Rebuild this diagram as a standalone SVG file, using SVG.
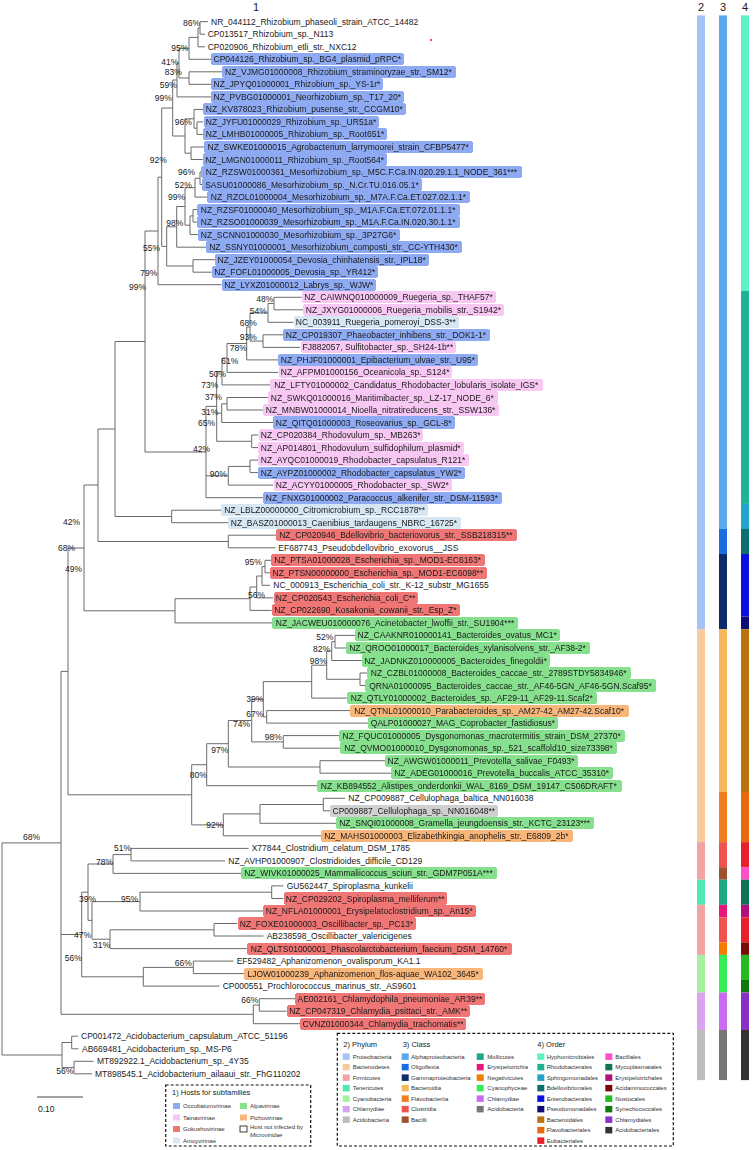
<svg xmlns="http://www.w3.org/2000/svg" width="756" height="1150" viewBox="0 0 756 1150">
<style>
text{font-family:"Liberation Sans",Arial,sans-serif;fill:#1a1a1a}
.t{font-size:8.5px}
.bs{font-size:8.5px;text-anchor:end}
.hd{font-size:11px}
.ln{stroke:#6b6b6b;stroke-width:1;fill:none}
.hb{filter:url(#fb)}.hp{filter:url(#fp)}.hl{filter:url(#fl)}.hr{filter:url(#fr)}.hg{filter:url(#fg)}.ho{filter:url(#fo)}.hy{filter:url(#fy)}
.lg{font-size:6px;fill:#333}
.lh{font-size:7.5px;fill:#222}
.box{fill:none;stroke:#111;stroke-width:1.2;stroke-dasharray:3,2}
</style>
<defs>
<filter id="fb" x="-0.016" y="-0.16" width="1.032" height="1.32" color-interpolation-filters="sRGB"><feFlood flood-color="#8eaaf2"/><feGaussianBlur stdDeviation="2.2"/><feComponentTransfer><feFuncA type="discrete" tableValues="0 0 0 1 1"/></feComponentTransfer><feComposite in="SourceGraphic"/></filter>
<filter id="fp" x="-0.016" y="-0.16" width="1.032" height="1.32" color-interpolation-filters="sRGB"><feFlood flood-color="#f7c8f3"/><feGaussianBlur stdDeviation="2.2"/><feComponentTransfer><feFuncA type="discrete" tableValues="0 0 0 1 1"/></feComponentTransfer><feComposite in="SourceGraphic"/></filter>
<filter id="fl" x="-0.016" y="-0.16" width="1.032" height="1.32" color-interpolation-filters="sRGB"><feFlood flood-color="#d6e7f3"/><feGaussianBlur stdDeviation="2.2"/><feComponentTransfer><feFuncA type="discrete" tableValues="0 0 0 1 1"/></feComponentTransfer><feComposite in="SourceGraphic"/></filter>
<filter id="fr" x="-0.016" y="-0.16" width="1.032" height="1.32" color-interpolation-filters="sRGB"><feFlood flood-color="#f07676"/><feGaussianBlur stdDeviation="2.2"/><feComponentTransfer><feFuncA type="discrete" tableValues="0 0 0 1 1"/></feComponentTransfer><feComposite in="SourceGraphic"/></filter>
<filter id="fg" x="-0.016" y="-0.16" width="1.032" height="1.32" color-interpolation-filters="sRGB"><feFlood flood-color="#86e08e"/><feGaussianBlur stdDeviation="2.2"/><feComponentTransfer><feFuncA type="discrete" tableValues="0 0 0 1 1"/></feComponentTransfer><feComposite in="SourceGraphic"/></filter>
<filter id="fo" x="-0.016" y="-0.16" width="1.032" height="1.32" color-interpolation-filters="sRGB"><feFlood flood-color="#f8b67a"/><feGaussianBlur stdDeviation="2.2"/><feComponentTransfer><feFuncA type="discrete" tableValues="0 0 0 1 1"/></feComponentTransfer><feComposite in="SourceGraphic"/></filter>
<filter id="fy" x="-0.016" y="-0.16" width="1.032" height="1.32" color-interpolation-filters="sRGB"><feFlood flood-color="#d0d0d0"/><feGaussianBlur stdDeviation="2.2"/><feComponentTransfer><feFuncA type="discrete" tableValues="0 0 0 1 1"/></feComponentTransfer><feComposite in="SourceGraphic"/></filter>
</defs>
<rect width="756" height="1150" fill="#fff"/>
<g id="column-headers">
<text class="hd" x="253" y="11">1</text>
<text class="hd" x="698" y="11">2</text>
<text class="hd" x="720" y="11">3</text>
<text class="hd" x="742" y="11">4</text>
</g>
<circle cx="431" cy="40" r="1" fill="#e02020"/>
<g id="connectors" class="ln">
<path d="M200,21.7V34.2M200,21.7H208M200,34.2H205 M198,28V46.8M198,28H200M198,46.8H205 M189,37.4V59.3M189,37.4H198M189,59.3H211 M189,71.8V84.3M189,71.8H222.7M189,84.3H211 M179,48.3V78M179,48.3H189M179,78H189 M177,63.2V96.9M177,63.2H179M177,96.9H211 M197,121.9V134.4M197,121.9H203.3M197,134.4H203.3 M194,109.4V128.2M194,109.4H203.3M194,128.2H197 M191,147V159.5M191,147H205M191,159.5H202.7 M185,118.8V153.2M185,118.8H194M185,153.2H191 M172.7,80V136M172.7,80H177M172.7,136H185"/>
<path d="M200,172V184.5M200,172H203.3M200,184.5H202.7 M195,178.3V197.1M195,178.3H200M195,197.1H208.3 M193,209.6V222.1M193,209.6H198.3M193,222.1H198.3 M190,215.9V234.6M190,215.9H193M190,234.6H198.3 M185,187.7V225.2M185,187.7H195M185,225.2H190 M176.7,206.5V247.2M176.7,206.5H185M176.7,247.2H206.7 M193,259.7V272.2M193,259.7H215M193,272.2H211.7 M166.7,226.8V266M166.7,226.8H176.7M166.7,266H193 M161.7,108V246.4M161.7,108H172.7M161.7,246.4H166.7 M158,177.2V284.7M158,177.2H161.7M158,284.7H221.7"/>
<path d="M274,297.3V309.8M274,297.3H301.7M274,309.8H303.3 M268,303.5V322.3M268,303.5H274M268,322.3H293.3 M263,334.8V347.4M263,334.8H283.3M263,347.4H300 M250,312.9V341.1M250,312.9H268M250,341.1H263 M246.7,327V359.9M246.7,327H250M246.7,359.9H278.3 M227,343.5V372.4M227,343.5H246.7M227,372.4H278.3 M222,358V384.9M222,358H227M222,384.9H271.7 M227,397.5V410M227,397.5H268.3M227,410H263.3 M221.7,403.8V422.5M221.7,403.8H227M221.7,422.5H273.3 M251.7,435V447.6M251.7,435H258.3M251.7,447.6H258.3 M216.7,371.5V441.3M216.7,371.5H222M216.7,413.2H221.7M216.7,441.3H251.7 M250,460.1V472.6M250,460.1H258.3M250,472.6H258.3 M228.3,466.4V485.1M228.3,466.4H250M228.3,485.1H273.3 M206,406.4V497.7M206,406.4H216.7M206,475.8H228.3M206,497.7H263.3"/>
<path d="M145,231V452M145,231H158M145,452H206 M171.7,510.2V522.7M171.7,510.2H221.7M171.7,522.7H228.3 M115,341.5V516.5M115,341.5H145M115,516.5H171.7 M228.3,535.2V547.8M228.3,535.2H276.7M228.3,547.8H275.5 M98,429V541.5M98,429H115M98,541.5H228.3 M265,560.3V572.8M265,560.3H271.7M265,572.8H270 M262,566.6V585.3M262,566.6H265M262,585.3H270 M256.7,576V597.9M256.7,576H262M256.7,597.9H273.3 M250,587V610.4M250,587H256.7M250,610.4H271.7 M175,598.7V622.9M175,598.7H250M175,622.9H273.3 M84,485V610.8M84,485H98M84,610.8H175"/>
<path d="M335,635.4V648M335,635.4H355M335,648H346.7 M331.7,641.7V660.5M331.7,641.7H335M331.7,660.5H361.7 M360,673V685.5M360,673H368.3M360,685.5H366.7 M326.7,651.1V679.3M326.7,651.1H331.7M326.7,679.3H360 M311.7,665.2V698.1M311.7,665.2H326.7M311.7,698.1H348.3 M266.7,710.6V723.1M266.7,710.6H351.7M266.7,723.1H368.3 M263.3,681.6V716.9M263.3,681.6H311.7M263.3,716.9H266.7 M283.3,735.6V748.2M283.3,735.6H340M283.3,748.2H341.7 M251.7,699.2V741.9M251.7,699.2H263.3M251.7,741.9H283.3 M320,760.7V773.2M320,760.7H385M320,773.2H391.7 M228.3,720.5V767M228.3,720.5H251.7M228.3,767H320 M206.7,743.7V785.7M206.7,743.7H228.3M206.7,785.7H318.3 M323.3,798.3V810.8M323.3,798.3H345M323.3,810.8H330 M260,804.5V823.3M260,804.5H323.3M260,823.3H336.7 M223.3,813.9V835.8M223.3,813.9H260M223.3,835.8H321.7 M191.7,764.7V824.9M191.7,764.7H206.7M191.7,824.9H223.3 M68,548V794.8M68,548H84M68,794.8H191.7"/>
<path d="M131,848.4V860.9M131,848.4H248.5M131,860.9H225 M113,854.6V873.4M113,854.6H131M113,873.4H241.7 M271.7,885.9V898.5M271.7,885.9H283.5M271.7,898.5H283.3 M140,892.2V911M140,892.2H271.7M140,911H263.3 M214,923.5V936M214,923.5H237.3M214,936H263.5 M110,929.8V948.6M110,929.8H214M110,948.6H248.3 M92,901.6V939.2M92,901.6H140M92,939.2H110 M88,864V920.4M88,864H113M88,920.4H92 M193.3,961.1V973.6M193.3,961.1H233.5M193.3,973.6H245 M143.3,967.4V986.1M143.3,967.4H193.3M143.3,986.1H219.5 M81.7,892.2V976.8M81.7,892.2H88M81.7,976.8H143.3 M259.3,998.7V1011.2M259.3,998.7H295M259.3,1011.2H286.7 M253.3,1005V1023.7M253.3,1005H259.3M253.3,1023.7H300 M61,671.4V1014.3M61,671.4H68M61,934.5H81.7M61,1014.3H253.3 M71.7,1036.2V1048.8M71.7,1036.2H78M71.7,1048.8H78.5 M74,1061.3V1073.8M74,1061.3H93.5M74,1073.8H92 M62,1042.5V1067.6M62,1042.5H71.7M62,1067.6H74 M2,842.9V1055M2,842.9H61M2,1055H62"/>
</g>
<g id="bootstrap">
<text class="bs" x="200" y="25.7">86%</text><text class="bs" x="188.3" y="50.7">95%</text><text class="bs" x="178.3" y="64.7">41%</text><text class="bs" x="181.7" y="74.7">83%</text><text class="bs" x="176.7" y="88">59%</text><text class="bs" x="171.7" y="100.7">99%</text><text class="bs" x="191.7" y="125.3">96%</text><text class="bs" x="166.7" y="163">92%</text><text class="bs" x="195" y="175.3">96%</text><text class="bs" x="191.7" y="188">52%</text><text class="bs" x="185" y="200.3">99%</text><text class="bs" x="183.3" y="226.3">98%</text><text class="bs" x="160" y="250.7">55%</text><text class="bs" x="157.3" y="276.3">79%</text><text class="bs" x="146" y="290">99%</text>
<text class="bs" x="273.3" y="302">48%</text><text class="bs" x="266.7" y="314">54%</text><text class="bs" x="256.7" y="326.3">68%</text><text class="bs" x="256.7" y="339.7">93%</text><text class="bs" x="246.7" y="350.7">78%</text><text class="bs" x="238.3" y="364">61%</text><text class="bs" x="226" y="377">50%</text><text class="bs" x="218.3" y="388">73%</text><text class="bs" x="221.7" y="400.3">37%</text><text class="bs" x="218.3" y="415.3">31%</text><text class="bs" x="215" y="426.3">65%</text><text class="bs" x="210" y="452">42%</text><text class="bs" x="226.7" y="477">90%</text>
<text class="bs" x="80" y="525">42%</text><text class="bs" x="75" y="551">68%</text><text class="bs" x="82" y="572">49%</text><text class="bs" x="261.7" y="565.3">95%</text><text class="bs" x="265" y="598">56%</text>
<text class="bs" x="333.3" y="639.7">52%</text><text class="bs" x="330" y="652">82%</text><text class="bs" x="326.7" y="663.7">98%</text><text class="bs" x="263.3" y="702.3">39%</text><text class="bs" x="263.3" y="717.3">67%</text><text class="bs" x="250" y="727.3">74%</text><text class="bs" x="281.7" y="739.7">98%</text><text class="bs" x="228.3" y="753">97%</text><text class="bs" x="206.7" y="778">80%</text><text class="bs" x="223.3" y="828">92%</text>
<text class="bs" x="40" y="840">68%</text><text class="bs" x="131" y="851">51%</text><text class="bs" x="113" y="865">78%</text><text class="bs" x="96" y="902">39%</text><text class="bs" x="138" y="902">95%</text><text class="bs" x="91" y="938">47%</text><text class="bs" x="110" y="948">31%</text><text class="bs" x="81.7" y="961.3">56%</text><text class="bs" x="191.7" y="966.3">66%</text><text class="bs" x="258.3" y="1003">66%</text><text class="bs" x="73.3" y="1073.7">56%</text>
</g>
<g id="leaves" class="t">
<g id="leaf-1"><text x="211" y="24.7">NR_044112_Rhizobium_phaseoli_strain_ATCC_14482</text></g>
<g id="leaf-2"><text x="207.7" y="37.2">CP013517_Rhizobium_sp._N113</text></g>
<g id="leaf-3"><text x="207.7" y="49.8">CP020906_Rhizobium_etli_str._NXC12</text></g>
<g id="leaf-4"><text class="hb" x="213.5" y="62.3">CP044126_Rhizobium_sp._BG4_plasmid_pRPC*</text></g>
<g id="leaf-5"><text class="hb" x="225" y="74.8">NZ_VJMG01000008_Rhizobium_straminoryzae_str._SM12*</text></g>
<g id="leaf-6"><text class="hb" x="213.5" y="87.3">NZ_JPYQ01000001_Rhizobium_sp._YS-1r*</text></g>
<g id="leaf-7"><text class="hb" x="213.5" y="99.9">NZ_PVBG01000001_Neorhizobium_sp._T17_20*</text></g>
<g id="leaf-8"><text class="hb" x="205.8" y="112.4">NZ_KV878023_Rhizobium_pusense_str._CCGM10*</text></g>
<g id="leaf-9"><text class="hb" x="205.8" y="124.9">NZ_JYFU01000029_Rhizobium_sp._UR51a*</text></g>
<g id="leaf-10"><text class="hb" x="205.8" y="137.4">NZ_LMHB01000005_Rhizobium_sp._Root651*</text></g>
<g id="leaf-11"><text class="hb" x="207.5" y="150">NZ_SWKE01000015_Agrobacterium_larrymoorei_strain_CFBP5477*</text></g>
<g id="leaf-12"><text class="hb" x="205.2" y="162.5">NZ_LMGN01000011_Rhizobium_sp._Root564*</text></g>
<g id="leaf-13"><text class="hb" x="205.8" y="175">NZ_RZSW01000361_Mesorhizobium_sp._M5C.F.Ca.IN.020.29.1.1_NODE_361***</text></g>
<g id="leaf-14"><text class="hb" x="205.2" y="187.5">SASU01000086_Mesorhizobium_sp._N.Cr.TU.016.05.1*</text></g>
<g id="leaf-15"><text class="hb" x="210.8" y="200.1">NZ_RZOL01000004_Mesorhizobium_sp._M7A.F.Ca.ET.027.02.1.1*</text></g>
<g id="leaf-16"><text class="hb" x="200.8" y="212.6">NZ_RZSF01000040_Mesorhizobium_sp._M1A.F.Ca.ET.072.01.1.1*</text></g>
<g id="leaf-17"><text class="hb" x="200.8" y="225.1">NZ_RZSO01000039_Mesorhizobium_sp._M1A.F.Ca.IN.020.30.1.1*</text></g>
<g id="leaf-18"><text class="hb" x="200.8" y="237.6">NZ_SCNN01000030_Mesorhizobium_sp._3P27G6*</text></g>
<g id="leaf-19"><text class="hb" x="209.2" y="250.2">NZ_SSNY01000001_Mesorhizobium_composti_str._CC-YTH430*</text></g>
<g id="leaf-20"><text class="hb" x="217.5" y="262.7">NZ_JZEY01000054_Devosia_chinhatensis_str._IPL18*</text></g>
<g id="leaf-21"><text class="hb" x="214.2" y="275.2">NZ_FOFL01000005_Devosia_sp._YR412*</text></g>
<g id="leaf-22"><text class="hb" x="224.2" y="287.7">NZ_LYXZ01000012_Labrys_sp._WJW*</text></g>
<g id="leaf-23"><text class="hp" x="304.2" y="300.3">NZ_CAIWNQ010000009_Ruegeria_sp._THAF57*</text></g>
<g id="leaf-24"><text class="hp" x="305.8" y="312.8">NZ_JXYG01000006_Ruegeria_mobilis_str._S1942*</text></g>
<g id="leaf-25"><text class="hl" x="295.8" y="325.3">NC_003911_Ruegeria_pomeroyi_DSS-3**</text></g>
<g id="leaf-26"><text class="hb" x="285.8" y="337.8">NZ_CP019307_Phaeobacter_inhibens_str._DOK1-1*</text></g>
<g id="leaf-27"><text class="hp" x="302.5" y="350.4">FJ882057, Sulfitobacter_sp._SH24-1b**</text></g>
<g id="leaf-28"><text class="hb" x="280.8" y="362.9">NZ_PHJF01000001_Epibacterium_ulvae_str._U95*</text></g>
<g id="leaf-29"><text class="hp" x="280.8" y="375.4">NZ_AFPM01000156_Oceanicola_sp._S124*</text></g>
<g id="leaf-30"><text class="hp" x="274.2" y="387.9">NZ_LFTY01000002_Candidatus_Rhodobacter_lobularis_isolate_IGS*</text></g>
<g id="leaf-31"><text class="hp" x="270.8" y="400.5">NZ_SWKQ01000016_Maritimibacter_sp._LZ-17_NODE_6*</text></g>
<g id="leaf-32"><text class="hp" x="265.8" y="413">NZ_MNBW01000014_Nioella_nitratireducens_str._SSW136*</text></g>
<g id="leaf-33"><text class="hb" x="275.8" y="425.5">NZ_QITQ01000003_Roseovarius_sp._GCL-8*</text></g>
<g id="leaf-34"><text class="hp" x="260.8" y="438">NZ_CP020384_Rhodovulum_sp._MB263*</text></g>
<g id="leaf-35"><text class="hp" x="260.8" y="450.6">NZ_AP014801_Rhodovulum_sulfidophilum_plasmid*</text></g>
<g id="leaf-36"><text class="hp" x="260.8" y="463.1">NZ_AYQC01000019_Rhodobacter_capsulatus_R121*</text></g>
<g id="leaf-37"><text class="hb" x="260.8" y="475.6">NZ_AYPZ01000002_Rhodobacter_capsulatus_YW2*</text></g>
<g id="leaf-38"><text class="hp" x="275.8" y="488.1">NZ_ACYY01000005_Rhodobacter_sp._SW2*</text></g>
<g id="leaf-39"><text class="hb" x="265.8" y="500.7">NZ_FNXG01000002_Paracoccus_alkenifer_str._DSM-11593*</text></g>
<g id="leaf-40"><text class="hl" x="224.2" y="513.2">NZ_LBLZ00000000_Citromicrobium_sp._RCC1878**</text></g>
<g id="leaf-41"><text class="hl" x="230.8" y="525.7">NZ_BASZ01000013_Caenibius_tardaugens_NBRC_16725*</text></g>
<g id="leaf-42"><text class="hr" x="279.2" y="538.2">NZ_CP020946_Bdellovibrio_bacteriovorus_str._SSB218315**</text></g>
<g id="leaf-43"><text x="278.3" y="550.8">EF687743_Pseudobdellovibrio_exovorus__JSS</text></g>
<g id="leaf-44"><text class="hr" x="274.2" y="563.3">NZ_PTSA01000028_Escherichia_sp._MOD1-EC6163*</text></g>
<g id="leaf-45"><text class="hr" x="272.5" y="575.8">NZ_PTSN00000000_Escherichia_sp._MOD1-EC6098**</text></g>
<g id="leaf-46"><text x="273.3" y="588.3">NC_000913_Escherichia_coli_str._K-12_substr_MG1655</text></g>
<g id="leaf-47"><text class="hr" x="275.8" y="600.9">NZ_CP020543_Escherichia_coli_C**</text></g>
<g id="leaf-48"><text class="hr" x="274.2" y="613.4">NZ_CP022690_Kosakonia_cowanii_str._Esp_Z*</text></g>
<g id="leaf-49"><text class="hg" x="275.8" y="625.9">NZ_JACWEU010000076_Acinetobacter_lwoffii_str._SU1904***</text></g>
<g id="leaf-50"><text class="hg" x="357.5" y="638.4">NZ_CAAKNR010000141_Bacteroides_ovatus_MC1*</text></g>
<g id="leaf-51"><text class="hg" x="349.2" y="651">NZ_QROO01000017_Bacteroides_xylanisolvens_str._AF38-2*</text></g>
<g id="leaf-52"><text class="hg" x="364.2" y="663.5">NZ_JADNKZ010000005_Bacteroides_finegoldii*</text></g>
<g id="leaf-53"><text class="hg" x="370.8" y="676">NZ_CZBL01000008_Bacteroides_caccae_str._2789STDY5834946*</text></g>
<g id="leaf-54"><text class="hg" x="369.2" y="688.5">QRNA01000095_Bacteroides_caccae_str._AF46-5GN_AF46-5GN.Scaf95*</text></g>
<g id="leaf-55"><text class="hg" x="350.8" y="701.1">NZ_QTLY01000002_Bacteroides_sp._AF29-11_AF29-11.Scaf2*</text></g>
<g id="leaf-56"><text class="ho" x="354.2" y="713.6">NZ_QTNL01000010_Parabacteroides_sp._AM27-42_AM27-42.Scaf10*</text></g>
<g id="leaf-57"><text class="hg" x="370.8" y="726.1">QALP01000027_MAG_Coprobacter_fastidiosus*</text></g>
<g id="leaf-58"><text class="hg" x="342.5" y="738.6">NZ_FQUC01000005_Dysgonomonas_macrotermitis_strain_DSM_27370*</text></g>
<g id="leaf-59"><text class="hg" x="344.2" y="751.2">NZ_QVMO01000010_Dysgonomonas_sp._521_scaffold10_size73398*</text></g>
<g id="leaf-60"><text class="hg" x="387.5" y="763.7">NZ_AWGW01000011_Prevotella_salivae_F0493*</text></g>
<g id="leaf-61"><text class="hg" x="394.2" y="776.2">NZ_ADEG01000016_Prevotella_buccalis_ATCC_35310*</text></g>
<g id="leaf-62"><text class="hg" x="320.8" y="788.7">NZ_KB894552_Alistipes_onderdonkii_WAL_8169_DSM_19147_C506DRAFT*</text></g>
<g id="leaf-63"><text x="348.3" y="801.3">NZ_CP009887_Cellulophaga_baltica_NN016038</text></g>
<g id="leaf-64"><text class="hy" x="332.5" y="813.8">CP009887_Cellulophaga_sp._NN016048**</text></g>
<g id="leaf-65"><text class="hg" x="339.2" y="826.3">NZ_SNQI01000008_Gramella_jeungdoensis_str._KCTC_23123***</text></g>
<g id="leaf-66"><text class="ho" x="324.2" y="838.8">NZ_MAHS01000003_Elizabethkingia_anophelis_str._E6809_2b*</text></g>
<g id="leaf-67"><text x="251.7" y="851.4">X77844_Clostridium_celatum_DSM_1785</text></g>
<g id="leaf-68"><text x="228.3" y="863.9">NZ_AVHP01000907_Clostridioides_difficile_CD129</text></g>
<g id="leaf-69"><text class="hg" x="244.2" y="876.4">NZ_WIVK01000025_Mammaliicoccus_sciuri_str._GDM7P051A***</text></g>
<g id="leaf-70"><text x="286.7" y="888.9">GU562447_Spiroplasma_kunkelii</text></g>
<g id="leaf-71"><text class="hr" x="285.8" y="901.5">NZ_CP029202_Spiroplasma_melliferum**</text></g>
<g id="leaf-72"><text class="hr" x="265.8" y="914">NZ_NFLA01000001_Erysipelatoclostridium_sp._An15*</text></g>
<g id="leaf-73"><text class="hr" x="239.8" y="926.5">NZ_FOXE01000003_Oscillibacter_sp._PC13*</text></g>
<g id="leaf-74"><text x="266.7" y="939">AB238598_Oscillibacter_valericigenes</text></g>
<g id="leaf-75"><text class="hr" x="250.8" y="951.6">NZ_QLTS01000001_Phascolarctobacterium_faecium_DSM_14760*</text></g>
<g id="leaf-76"><text x="236.7" y="964.1">EF529482_Aphanizomenon_ovalisporum_KA1.1</text></g>
<g id="leaf-77"><text class="ho" x="247.5" y="976.6">LJOW01000239_Aphanizomenon_flos-aquae_WA102_3645*</text></g>
<g id="leaf-78"><text x="222.7" y="989.1">CP000551_Prochlorococcus_marinus_str._AS9601</text></g>
<g id="leaf-79"><text class="hr" x="297.5" y="1001.7">AE002161_Chlamydophila_pneumoniae_AR39**</text></g>
<g id="leaf-80"><text class="hr" x="289.2" y="1014.2">NZ_CP047319_Chlamydia_psittaci_str._AMK**</text></g>
<g id="leaf-81"><text class="hr" x="302.5" y="1026.7">CVNZ01000344_Chlamydia_trachomatis**</text></g>
<g id="leaf-82"><text x="81" y="1039.2">CP001472_Acidobacterium_capsulatum_ATCC_51196</text></g>
<g id="leaf-83"><text x="82" y="1051.8">AB669481_Acidobacterium_sp._MS-P6</text></g>
<g id="leaf-84"><text x="97" y="1064.3">MT892922.1_Acidobacterium_sp._4Y35</text></g>
<g id="leaf-85"><text x="95" y="1076.8">MT898545.1_Acidobacterium_ailaaui_str._FhG110202</text></g>
</g>
<g id="bar-phylum">
<rect x="697" y="15.4" width="8" height="613.8" fill="#a4c2f4"/>
<rect x="697" y="629.2" width="8" height="212.9" fill="#f9cb9c"/>
<rect x="697" y="842.1" width="8" height="37.6" fill="#f4a3a3"/>
<rect x="697" y="879.7" width="8" height="25.1" fill="#4ee8b0"/>
<rect x="697" y="904.8" width="8" height="50.1" fill="#f4a3a3"/>
<rect x="697" y="954.9" width="8" height="37.6" fill="#a6f0a0"/>
<rect x="697" y="992.5" width="8" height="37.5" fill="#d9a3f0"/>
<rect x="697" y="1030" width="8" height="50.1" fill="#bdbdbd"/>
</g>
<g id="bar-class">
<rect x="719" y="15.4" width="8" height="513.6" fill="#5aa9ea"/>
<rect x="719" y="529" width="8" height="25" fill="#1a6fe0"/>
<rect x="719" y="554" width="8" height="75.2" fill="#0d2a6b"/>
<rect x="719" y="629.2" width="8" height="162.8" fill="#f6b85c"/>
<rect x="719" y="792" width="8" height="50.1" fill="#f07d1e"/>
<rect x="719" y="842.1" width="8" height="25.1" fill="#ef5350"/>
<rect x="719" y="867.2" width="8" height="12.5" fill="#a0522d"/>
<rect x="719" y="879.7" width="8" height="25.1" fill="#1ca882"/>
<rect x="719" y="904.8" width="8" height="12.5" fill="#e5177e"/>
<rect x="719" y="917.3" width="8" height="25.1" fill="#ef5350"/>
<rect x="719" y="942.4" width="8" height="12.5" fill="#f57c00"/>
<rect x="719" y="954.9" width="8" height="37.6" fill="#33ee55"/>
<rect x="719" y="992.5" width="8" height="37.5" fill="#c86af2"/>
<rect x="719" y="1030" width="8" height="50.1" fill="#777777"/>
</g>
<g id="bar-order">
<rect x="741" y="15.4" width="8" height="275.6" fill="#5ef2c4"/>
<rect x="741" y="291" width="8" height="212.9" fill="#1eb394"/>
<rect x="741" y="503.9" width="8" height="25.1" fill="#25a2c9"/>
<rect x="741" y="529" width="8" height="25" fill="#0f6e6e"/>
<rect x="741" y="554" width="8" height="62.6" fill="#0a10e0"/>
<rect x="741" y="616.6" width="8" height="12.6" fill="#0b0b78"/>
<rect x="741" y="629.2" width="8" height="162.8" fill="#b8730f"/>
<rect x="741" y="792" width="8" height="50.1" fill="#e86a10"/>
<rect x="741" y="842.1" width="8" height="25.1" fill="#e8202a"/>
<rect x="741" y="867.2" width="8" height="12.5" fill="#ff4fc8"/>
<rect x="741" y="879.7" width="8" height="25.1" fill="#0f7355"/>
<rect x="741" y="904.8" width="8" height="12.5" fill="#b30f78"/>
<rect x="741" y="917.3" width="8" height="25.1" fill="#e8202a"/>
<rect x="741" y="942.4" width="8" height="12.5" fill="#7a0a0a"/>
<rect x="741" y="954.9" width="8" height="25" fill="#22bb22"/>
<rect x="741" y="979.9" width="8" height="12.6" fill="#0d780d"/>
<rect x="741" y="992.5" width="8" height="37.5" fill="#8b2fc9"/>
<rect x="741" y="1030" width="8" height="50.1" fill="#333333"/>
</g>
<g id="scale-bar">
<path d="M37,1097H83" stroke="#444" stroke-width="1"/>
<text class="t" x="38" y="1112">0.10</text>
</g>
<g id="legend-hosts">
<rect class="box" x="165.7" y="1085" width="145" height="61"/>
<text class="lh" x="172" y="1095">1) Hosts for subfamilies</text>
<rect x="173" y="1103" width="7" height="6" fill="#8eaaf2"/><text class="lg" x="183" y="1108">Occultatumvirinae</text>
<rect x="173" y="1114.5" width="7" height="6" fill="#f7c8f3"/><text class="lg" x="183" y="1119.5">Tainavirinae</text>
<rect x="173" y="1126" width="7" height="6" fill="#f07676"/><text class="lg" x="183" y="1131">Gokushovirinae</text>
<rect x="173" y="1137.5" width="7" height="6" fill="#d6e7f3"/><text class="lg" x="183" y="1142.5">Amoyvirinae</text>
<rect x="240" y="1103" width="7" height="6" fill="#86e08e"/><text class="lg" x="250" y="1108">Alpavirinae</text>
<rect x="240" y="1114.5" width="7" height="6" fill="#f8b67a"/><text class="lg" x="250" y="1119.5">Pichovirinae</text>
<rect x="240" y="1126" width="7" height="6" fill="#fff" stroke="#111" stroke-width="0.8"/><text class="lg" x="250" y="1129">Host not infected by</text><text class="lg" x="250" y="1137" font-style="italic">Microviridae</text>
</g>
<g id="legend-taxonomy">
<rect class="box" x="337.3" y="1033.3" width="336" height="112.7"/>
<text class="lh" x="343.3" y="1047">2) Phylum</text>
<text class="lh" x="402.7" y="1047">3) Class</text>
<text class="lh" x="537.3" y="1047">4) Order</text>
<g id="legend-phylum">
<rect x="342.7" y="1053.4" width="7" height="6.5" fill="#a4c2f4"/><text class="lg" x="352.7" y="1058.7">Proteobacteria</text>
<rect x="342.7" y="1063.9" width="7" height="6.5" fill="#f9cb9c"/><text class="lg" x="352.7" y="1069.2">Bacteroidetes</text>
<rect x="342.7" y="1074.4" width="7" height="6.5" fill="#f4a3a3"/><text class="lg" x="352.7" y="1079.7">Firmicutes</text>
<rect x="342.7" y="1084.9" width="7" height="6.5" fill="#4ee8b0"/><text class="lg" x="352.7" y="1090.2">Tenericutes</text>
<rect x="342.7" y="1095.4" width="7" height="6.5" fill="#a6f0a0"/><text class="lg" x="352.7" y="1100.7">Cyanobacteria</text>
<rect x="342.7" y="1105.9" width="7" height="6.5" fill="#d9a3f0"/><text class="lg" x="352.7" y="1111.2">Chlamydiae</text>
<rect x="342.7" y="1116.4" width="7" height="6.5" fill="#bdbdbd"/><text class="lg" x="352.7" y="1121.7">Acidobacteria</text>
</g>
<g id="legend-class">
<rect x="401.7" y="1053.4" width="7" height="6.5" fill="#5aa9ea"/><text class="lg" x="411" y="1058.7">Alphaproteobacteria</text>
<rect x="401.7" y="1063.9" width="7" height="6.5" fill="#1a6fe0"/><text class="lg" x="411" y="1069.2">Oligoflexia</text>
<rect x="401.7" y="1074.4" width="7" height="6.5" fill="#0d2a6b"/><text class="lg" x="411" y="1079.7">Gammaproteobacteria</text>
<rect x="401.7" y="1084.9" width="7" height="6.5" fill="#f6b85c"/><text class="lg" x="411" y="1090.2">Bacteroidia</text>
<rect x="401.7" y="1095.4" width="7" height="6.5" fill="#f07d1e"/><text class="lg" x="411" y="1100.7">Flavobacteriia</text>
<rect x="401.7" y="1105.9" width="7" height="6.5" fill="#ef5350"/><text class="lg" x="411" y="1111.2">Clostridia</text>
<rect x="401.7" y="1116.4" width="7" height="6.5" fill="#a0522d"/><text class="lg" x="411" y="1121.7">Bacilli</text>
<rect x="476.7" y="1053.4" width="7" height="6.5" fill="#1ca882"/><text class="lg" x="487.3" y="1058.7">Mollicutes</text>
<rect x="476.7" y="1063.9" width="7" height="6.5" fill="#e5177e"/><text class="lg" x="487.3" y="1069.2">Erysipelotrichia</text>
<rect x="476.7" y="1074.4" width="7" height="6.5" fill="#f57c00"/><text class="lg" x="487.3" y="1079.7">Negativicutes</text>
<rect x="476.7" y="1084.9" width="7" height="6.5" fill="#33ee55"/><text class="lg" x="487.3" y="1090.2">Cyanophyceae</text>
<rect x="476.7" y="1095.4" width="7" height="6.5" fill="#c86af2"/><text class="lg" x="487.3" y="1100.7">Chlamydiae</text>
<rect x="476.7" y="1105.9" width="7" height="6.5" fill="#777777"/><text class="lg" x="487.3" y="1111.2">Acidobacteria</text>
</g>
<g id="legend-order">
<rect x="537.3" y="1053.4" width="7" height="6.5" fill="#5ef2c4"/><text class="lg" x="546.7" y="1058.7">Hyphomicrobiales</text>
<rect x="537.3" y="1063.9" width="7" height="6.5" fill="#1eb394"/><text class="lg" x="546.7" y="1069.2">Rhodobacterales</text>
<rect x="537.3" y="1074.4" width="7" height="6.5" fill="#25a2c9"/><text class="lg" x="546.7" y="1079.7">Sphingomonadales</text>
<rect x="537.3" y="1084.9" width="7" height="6.5" fill="#0f6e6e"/><text class="lg" x="546.7" y="1090.2">Bdellovibrionales</text>
<rect x="537.3" y="1095.4" width="7" height="6.5" fill="#0a10e0"/><text class="lg" x="546.7" y="1100.7">Enterobacterales</text>
<rect x="537.3" y="1105.9" width="7" height="6.5" fill="#0b0b78"/><text class="lg" x="546.7" y="1111.2">Pseudomonadales</text>
<rect x="537.3" y="1116.4" width="7" height="6.5" fill="#b8730f"/><text class="lg" x="546.7" y="1121.7">Bacteroidales</text>
<rect x="537.3" y="1126.9" width="7" height="6.5" fill="#e86a10"/><text class="lg" x="546.7" y="1132.2">Flavobacteriales</text>
<rect x="537.3" y="1137.4" width="7" height="6.5" fill="#e8202a"/><text class="lg" x="546.7" y="1142.7">Eubacteriales</text>
<rect x="605.3" y="1053.4" width="7" height="6.5" fill="#ff4fc8"/><text class="lg" x="615.3" y="1058.7">Bacillales</text>
<rect x="605.3" y="1063.9" width="7" height="6.5" fill="#0f7355"/><text class="lg" x="615.3" y="1069.2">Mycoplasmatales</text>
<rect x="605.3" y="1074.4" width="7" height="6.5" fill="#b30f78"/><text class="lg" x="615.3" y="1079.7">Erysipelotrichales</text>
<rect x="605.3" y="1084.9" width="7" height="6.5" fill="#7a0a0a"/><text class="lg" x="615.3" y="1090.2">Acidaminococcales</text>
<rect x="605.3" y="1095.4" width="7" height="6.5" fill="#22bb22"/><text class="lg" x="615.3" y="1100.7">Nostocales</text>
<rect x="605.3" y="1105.9" width="7" height="6.5" fill="#0d780d"/><text class="lg" x="615.3" y="1111.2">Synechococcales</text>
<rect x="605.3" y="1116.4" width="7" height="6.5" fill="#8b2fc9"/><text class="lg" x="615.3" y="1121.7">Chlamydiales</text>
<rect x="605.3" y="1126.9" width="7" height="6.5" fill="#333333"/><text class="lg" x="615.3" y="1132.2">Acidobacteriales</text>
</g>
</g>
</svg>
